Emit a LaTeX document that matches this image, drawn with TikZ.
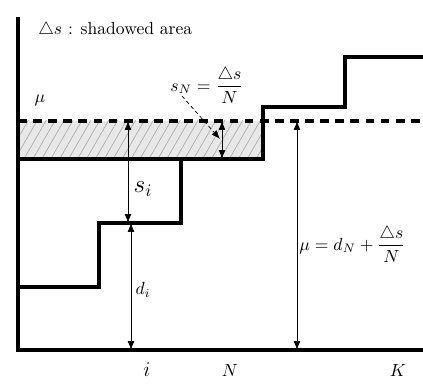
\documentclass[tikz,border=0pt]{standalone}
\usepackage{amsmath}
\usepackage{amssymb}
\usepackage{tikz}
\usepackage{xcolor}
\usetikzlibrary{arrows.meta,patterns.meta}

\begin{document}
\begin{tikzpicture}[auto, x=0.2mm, y=-0.2mm]
    % Styles for lines and labels
    \tikzset{
      level/.style={line width=1.8pt, line join=miter},
      mudash/.style={line width=1.8pt, dash pattern=on 5pt off 3.6pt},
      dimarrow/.style={thin, {Latex[length=5pt,width=3.8pt]}-{Latex[length=5pt,width=3.8pt]}},
      pointer/.style={thin, dash pattern=on 2.2pt off 1.6pt, -{Latex[length=5pt,width=3.8pt]}},
      shadow/.style={pattern color=gray!70,
        pattern={Lines[angle=60, distance=4.4pt, line width=0.35pt]}}
    }
    \useasboundingbox (0,0) rectangle (423,386);

    % Shadowed area
    \fill[gray!18] (18,121) rectangle (263,159);
    \fill[shadow] (18,121) rectangle (263,159);

    % Coordinates of the levels
    \coordinate (O) at (18,350);
    \coordinate (yTop) at (18,17);
    \coordinate (xEnd) at (423,350);
    \coordinate (muL) at (18,121);
    \coordinate (muR) at (423,121);

    % Dashed level mu
    \draw[mudash] (muL) -- (muR);

    % Staircase
    \draw[level] (18,287) -- (99,287) -- (99,223) -- (181,223) -- (181,159)
      -- (263,159) -- (263,107) -- (345,107) -- (345,57) -- (423,57);
    \draw[level] (18,159) -- (181,159);

    % Axes
    \draw[level] (yTop) -- (O) -- (xEnd);

    % Arrow ends
    \coordinate (siA) at (128,121);
    \coordinate (siB) at (128,223);
    \coordinate (diA) at (131,223);
    \coordinate (diB) at (131,350);
    \coordinate (sNA) at (222,121);
    \coordinate (sNB) at (222,159);
    \coordinate (muA) at (297,121);
    \coordinate (muB) at (297,350);
    \coordinate (from) at (182,96);
    \coordinate (tip) at (220,139);

    % Labels
    \node[anchor=west, inner sep=0pt] (area) at (38,30) {$\triangle s$ : shadowed area};
    \node (mu) at (40,100) {$\mu$};
    \node (sN) at (207,85) {$s_N = \dfrac{\triangle s}{N}$};
    \node (si) at (143,189) {\Large $s_i$};
    \node (di) at (143,290) {$d_i$};
    \node[anchor=west, inner sep=0pt] (muEq) at (299,244) {$\mu = d_N + \dfrac{\triangle s}{N}$};
    \node (i) at (147,370) {\large $i$};
    \node (N) at (230,370) {$N$};
    \node (K) at (398,370) {$K$};

    % Arrows
    \draw[dimarrow] (siA) -- (siB);
    \draw[dimarrow] (diA) -- (diB);
    \draw[dimarrow] (sNA) -- (sNB);
    \draw[dimarrow] (muA) -- (muB);
    \draw[pointer] (from) -- (tip);

\end{tikzpicture}
\end{document}
